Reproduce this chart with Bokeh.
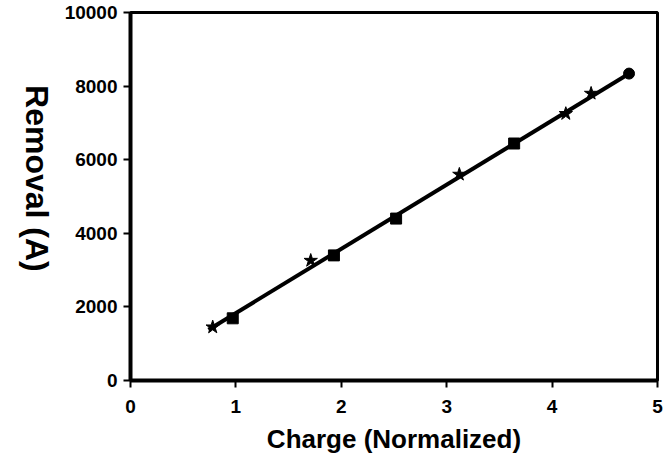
import math
from bokeh.plotting import figure
from bokeh.layouts import row
from bokeh.models import Range1d, FixedTicker
from bokeh.core.properties import value
from bokeh.embed import file_html
from bokeh.resources import INLINE

# Data
square_x = [0.97, 1.93, 2.52, 3.64]
square_y = [1690, 3400, 4400, 6440]
star_x = [0.78, 1.71, 3.12, 4.13, 4.37]
star_y = [1450, 3260, 5600, 7250, 7800]
circle_x = [4.73]
circle_y = [8340]
fit_x = [0.74, 4.76]
fit_y = [1380, 8390]
x_ticks = [0, 1, 2, 3, 4, 5]
y_ticks = [0, 2000, 4000, 6000, 8000, 10000]
x_title = "Charge (Normalized)"
y_title = "Removal (A)"

FONT = "Liberation Sans"
W, H = 666, 468
LAB_W = 56

# narrow panel that holds the y-axis title (reads top to bottom)
lab = figure(width=LAB_W, height=H, output_backend="svg", toolbar_location=None,
             x_range=Range1d(0, LAB_W), y_range=Range1d(0, H),
             x_axis_location=None, y_axis_location=None,
             min_border=0, min_border_left=0, min_border_right=0,
             min_border_top=0, min_border_bottom=0)
lab.outline_line_color = None
lab.grid.visible = False
lab.background_fill_color = "white"
lab.border_fill_color = "white"
lab.text(x=[36], y=[H - 183 - 28], text=[y_title], angle=-math.pi / 2,
         text_align="center", text_baseline="middle",
         text_font=value(FONT), text_font_style="bold", text_font_size="32px",
         text_color="black")

p = figure(width=W - LAB_W, height=H, output_backend="svg", toolbar_location=None,
           x_range=Range1d(0, 5), y_range=Range1d(0, 10000),
           min_border_left=130 - LAB_W, min_border_right=9, min_border_top=12, min_border_bottom=88)
p.background_fill_color = "white"
p.border_fill_color = "white"
p.outline_line_color = "black"
p.outline_line_width = 3
p.xgrid.visible = False
p.ygrid.visible = False

for ax in (p.xaxis[0], p.yaxis[0]):
    ax.axis_line_width = 4
    ax.axis_line_color = "black"
    ax.major_tick_line_width = 2
    ax.major_tick_line_color = "black"
    ax.major_tick_out = 7
    ax.major_tick_in = 0
    ax.minor_tick_line_color = None
    ax.major_label_text_font = FONT
    ax.major_label_text_font_style = "bold"
    ax.major_label_text_font_size = "19px"
    ax.major_label_text_color = "black"
    ax.axis_label_text_font = FONT
    ax.axis_label_text_font_style = "bold"
    ax.axis_label_text_color = "black"

p.xaxis.ticker = FixedTicker(ticks=x_ticks)
p.yaxis.ticker = FixedTicker(ticks=y_ticks)
p.xaxis.major_label_standoff = 12
p.yaxis.major_label_standoff = 6

p.xaxis.axis_label = x_title
p.xaxis.axis_label_text_font_size = "26px"
p.xaxis.axis_label_standoff = 8

p.line(fit_x, fit_y, line_color="black", line_width=4)
p.scatter(square_x, square_y, marker="square", size=11, fill_color="black", line_color="black")
p.scatter(star_x, star_y, marker="star", size=14, fill_color="black", line_color="black")
p.scatter(circle_x, circle_y, marker="circle", size=11, fill_color="black", line_color="black")

layout = row(lab, p, spacing=0)
open("out.html", "w").write(file_html(layout, INLINE))
